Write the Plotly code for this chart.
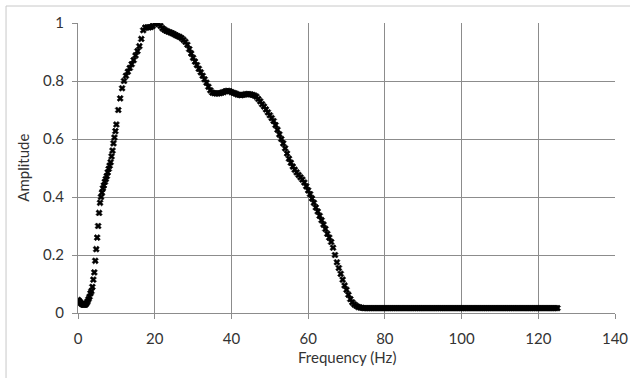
import plotly.graph_objects as go

# Frequency bins (Hz) and amplitude
freq_low = [0, 0.25, 0.5, 0.75, 1, 1.25, 1.5, 1.75, 2, 2.25, 2.5, 2.75, 3, 3.25, 3.5, 3.75,
            4, 4.25, 4.5, 4.75, 5, 5.25, 5.5, 5.75, 6, 6.25, 6.5, 6.75, 7, 7.25, 7.5, 7.75,
            8, 8.25, 8.5, 8.75, 9, 9.25, 9.5, 9.75]
amp_low = [0.045, 0.042, 0.038, 0.034, 0.031, 0.029, 0.028, 0.028, 0.030, 0.034, 0.040, 0.048,
           0.056, 0.068, 0.075, 0.090, 0.115, 0.140, 0.180, 0.220, 0.260, 0.300, 0.345, 0.380,
           0.400, 0.415, 0.430, 0.440, 0.452, 0.462, 0.472, 0.485, 0.497, 0.508, 0.520, 0.540,
           0.560, 0.585, 0.605, 0.627]

freq_mid = [10, 10.5, 11, 11.5, 12, 12.5, 13, 13.5, 14, 14.5, 15, 15.5, 16, 16.5, 17, 17.5,
            18, 18.5, 19, 19.5, 20, 20.5, 21, 21.5, 22, 22.5, 23, 23.5, 24, 24.5, 25, 25.5,
            26, 26.5, 27, 27.5, 28, 28.5, 29, 29.5, 30, 30.5, 31, 31.5, 32, 32.5, 33, 33.5,
            34, 34.5, 35, 35.5, 36, 36.5, 37, 37.5, 38, 38.5, 39, 39.5, 40, 40.5, 41, 41.5,
            42, 42.5, 43, 43.5, 44, 44.5, 45, 45.5, 46, 46.5, 47, 47.5, 48, 48.5, 49, 49.5,
            50, 50.5, 51, 51.5, 52, 52.5, 53, 53.5, 54, 54.5, 55, 55.5, 56, 56.5, 57, 57.5,
            58, 58.5, 59, 59.5, 60, 60.5, 61, 61.5, 62, 62.5, 63, 63.5, 64, 64.5, 65, 65.5,
            66, 66.5, 67, 67.5, 68, 68.5, 69, 69.5, 70, 70.5, 71, 71.5, 72, 72.5, 73, 73.5,
            74, 74.5]
amp_mid = [0.650, 0.700, 0.740, 0.775, 0.800, 0.818, 0.832, 0.845, 0.858, 0.872, 0.888, 0.903,
           0.920, 0.945, 0.975, 0.984, 0.985, 0.985, 0.986, 0.990, 0.997, 1.000, 0.997, 0.990,
           0.982, 0.977, 0.973, 0.970, 0.968, 0.965, 0.962, 0.958, 0.955, 0.952, 0.948, 0.942,
           0.935, 0.925, 0.910, 0.895, 0.880, 0.867, 0.855, 0.842, 0.830, 0.818, 0.806, 0.794,
           0.780, 0.768, 0.760, 0.758, 0.757, 0.757, 0.758, 0.760, 0.762, 0.765, 0.766, 0.765,
           0.762, 0.759, 0.757, 0.754, 0.752, 0.751, 0.752, 0.754, 0.755, 0.755, 0.754, 0.752,
           0.750, 0.746, 0.738, 0.730, 0.720, 0.712, 0.702, 0.692, 0.682, 0.672, 0.662, 0.648,
           0.632, 0.616, 0.600, 0.585, 0.568, 0.550, 0.532, 0.518, 0.505, 0.494, 0.485, 0.476,
           0.468, 0.460, 0.450, 0.437, 0.423, 0.410, 0.395, 0.380, 0.364, 0.350, 0.335, 0.320,
           0.305, 0.290, 0.273, 0.260, 0.245, 0.225, 0.200, 0.175, 0.155, 0.135, 0.115, 0.095,
           0.080, 0.063, 0.048, 0.037, 0.030, 0.025, 0.021, 0.019, 0.018, 0.017]

freq_tail = [75, 75.5, 76, 76.5, 77, 77.5, 78, 78.5, 79, 79.5, 80, 80.5, 81, 81.5, 82, 82.5,
             83, 83.5, 84, 84.5, 85, 85.5, 86, 86.5, 87, 87.5, 88, 88.5, 89, 89.5, 90, 90.5,
             91, 91.5, 92, 92.5, 93, 93.5, 94, 94.5, 95, 95.5, 96, 96.5, 97, 97.5, 98, 98.5,
             99, 99.5, 100, 100.5, 101, 101.5, 102, 102.5, 103, 103.5, 104, 104.5, 105, 105.5,
             106, 106.5, 107, 107.5, 108, 108.5, 109, 109.5, 110, 110.5, 111, 111.5, 112, 112.5,
             113, 113.5, 114, 114.5, 115, 115.5, 116, 116.5, 117, 117.5, 118, 118.5, 119, 119.5,
             120, 120.5, 121, 121.5, 122, 122.5, 123, 123.5, 124, 124.5, 125]
amp_tail = [0.017, 0.017, 0.017, 0.017, 0.017, 0.017, 0.017, 0.017, 0.017, 0.017, 0.017, 0.017,
            0.017, 0.017, 0.017, 0.017, 0.017, 0.017, 0.017, 0.017, 0.017, 0.017, 0.017, 0.017,
            0.017, 0.017, 0.017, 0.017, 0.017, 0.017, 0.017, 0.017, 0.017, 0.017, 0.017, 0.017,
            0.017, 0.017, 0.017, 0.017, 0.017, 0.017, 0.017, 0.017, 0.017, 0.017, 0.017, 0.017,
            0.017, 0.017, 0.017, 0.017, 0.017, 0.017, 0.017, 0.017, 0.017, 0.017, 0.017, 0.017,
            0.017, 0.017, 0.017, 0.017, 0.017, 0.017, 0.017, 0.017, 0.017, 0.017, 0.017, 0.017,
            0.017, 0.017, 0.017, 0.017, 0.017, 0.017, 0.017, 0.017, 0.017, 0.017, 0.017, 0.017,
            0.017, 0.017, 0.017, 0.017, 0.017, 0.017, 0.017, 0.017, 0.017, 0.017, 0.017, 0.017,
            0.017, 0.017, 0.017, 0.017, 0.017]

x_ticks = [0, 20, 40, 60, 80, 100, 120, 140]
y_ticks = [0, 0.2, 0.4, 0.6, 0.8, 1]
y_tick_labels = ["0", "0.2", "0.4", "0.6", "0.8", "1"]

freq = freq_low + freq_mid + freq_tail
amp = amp_low + amp_mid + amp_tail

GRID = "#8c8c8c"
FONT = "Lato, 'Open Sans', sans-serif"
TXT = "#333333"
BORDER = "#c8c8c8"

fig = go.Figure(go.Scatter(
    x=freq, y=amp, mode="markers",
    marker=dict(symbol="x", size=5.5, color="black",
                line=dict(width=0.6, color="black")),
    showlegend=False,
))

fig.update_layout(
    width=630, height=378,
    margin=dict(l=78, r=15, t=23, b=65),
    paper_bgcolor="white", plot_bgcolor="white",
    font=dict(family=FONT, size=15, color=TXT),
    xaxis=dict(range=[0, 140], tickvals=x_ticks, showgrid=True, gridcolor=GRID, gridwidth=1,
               showline=True, linecolor=GRID, linewidth=1, ticks="outside", ticklen=5,
               tickcolor=GRID, zeroline=False, ticklabelstandoff=7, automargin=False),
    yaxis=dict(range=[0, 1], tickvals=y_ticks, ticktext=y_tick_labels, showgrid=True,
               gridcolor=GRID, gridwidth=1, showline=True, linecolor=GRID, linewidth=1,
               ticks="outside", ticklen=5, tickcolor=GRID, zeroline=False, ticklabelstandoff=5,
               automargin=False),
    annotations=[
        dict(text="Frequency (Hz)", xref="paper", yref="paper", x=0.5, y=-0.152,
             xanchor="center", yanchor="middle", showarrow=False,
             font=dict(size=15, color=TXT)),
        dict(text="Amplitude", xref="paper", yref="paper", x=-0.103, y=0.5,
             xanchor="center", yanchor="middle", showarrow=False, textangle=-90,
             font=dict(size=15, color=TXT)),
    ],
    shapes=[
        dict(type="line", xref="paper", yref="paper", x0=-0.134, x1=1.03, y0=1.0586, y1=1.0586,
             line=dict(color=BORDER, width=1)),
        dict(type="line", xref="paper", yref="paper", x0=-0.134, x1=-0.134, y0=1.0586, y1=-0.23,
             line=dict(color=BORDER, width=1)),
    ],
)

fig.write_html("out.html", config={"displayModeBar": False},
               post_script="document.body.style.margin='0';document.body.style.overflow='hidden';")
